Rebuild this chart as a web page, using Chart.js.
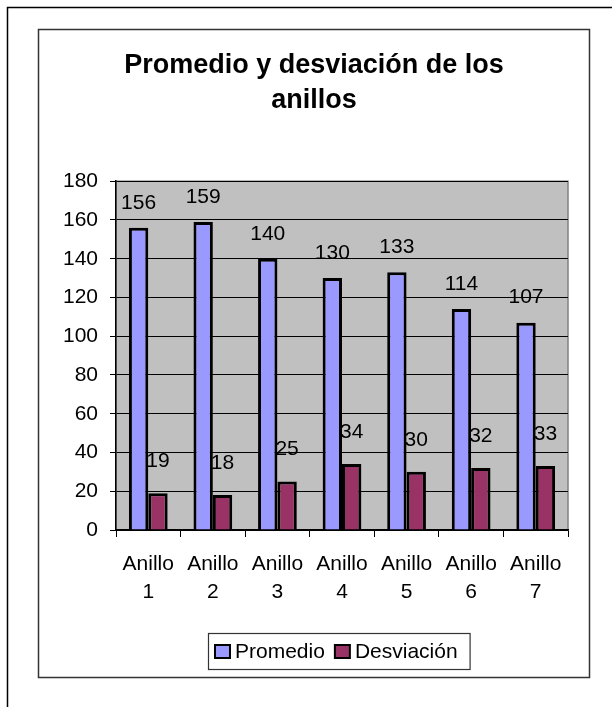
<!DOCTYPE html>
<html>
<head>
<meta charset="utf-8">
<script src="https://cdn.jsdelivr.net/npm/chart.js@4/dist/chart.umd.min.js"></script>
<style>
  html, body { margin: 0; padding: 0; background: #fff; }
  canvas { display: block; }
</style>
</head>
<body>
<canvas id="chart" width="612" height="707"></canvas>
<script>
// --- DATA ---
const categories = [['Anillo', '1'], ['Anillo', '2'], ['Anillo', '3'], ['Anillo', '4'], ['Anillo', '5'], ['Anillo', '6'], ['Anillo', '7']];
const promedio = [156, 159, 140, 130, 133, 114, 107];
const desviacion = [19, 18, 25, 34, 30, 32, 33];
const seriesNames = ['Promedio', 'Desviación'];
const titleLines = ['Promedio y desviación de los', 'anillos'];

const FONT = "'Liberation Sans', Arial, sans-serif";

// frames + grey plot background
const framePlugin = {
    id: 'frames',
    beforeDraw(chart) {
        const ctx = chart.ctx;
        const a = chart.chartArea;
        ctx.save();
        // outer frame (only top/left visible)
        ctx.strokeStyle = '#000';
        ctx.lineWidth = 1.5;
        ctx.beginPath();
        ctx.moveTo(7.5, 707);
        ctx.lineTo(7.5, 7.5);
        ctx.lineTo(612, 7.5);
        ctx.stroke();
        // inner chart box
        ctx.strokeStyle = '#333';
        ctx.strokeRect(38.5, 29.5, 551, 648);
        // plot area
        ctx.fillStyle = '#c0c0c0';
        ctx.fillRect(a.left, a.top, a.right - a.left, a.bottom - a.top);
        ctx.strokeStyle = '#808080';
        ctx.lineWidth = 1.5;
        ctx.strokeRect(a.left, a.top, a.right - a.left, a.bottom - a.top);
        ctx.restore();
    }
};

// value labels above bars
const labelOffsets = [25, 32];
const valueLabels = {
    id: 'valueLabels',
    afterDatasetsDraw(chart) {
        const ctx = chart.ctx;
        ctx.save();
        ctx.font = '21px ' + FONT;
        ctx.fillStyle = '#000';
        ctx.textAlign = 'center';
        ctx.textBaseline = 'middle';
        chart.data.datasets.forEach((ds, i) => {
            chart.getDatasetMeta(i).data.forEach((bar, j) => {
                ctx.fillText(String(ds.data[j]), bar.x, bar.y - labelOffsets[i]);
            });
        });
        ctx.restore();
    }
};

// boxed legend
const boxLegend = {
    id: 'boxLegend',
    afterDraw(chart) {
        const ctx = chart.ctx;
        ctx.save();
        ctx.font = '21px ' + FONT;
        const left = 208, top = 633, h = 36;
        const padL = 7, padR = 12, sw = 15, gap = 5, itemGap = 10;
        let x = left + padL;
        const items = chart.data.datasets.map(ds => ({ text: ds.label, color: ds.backgroundColor, w: ctx.measureText(ds.label).width }));
        let total = padL + padR;
        items.forEach((it, i) => { total += sw + gap + it.w + (i < items.length - 1 ? itemGap : 0); });
        ctx.strokeStyle = '#333';
        ctx.lineWidth = 1.2;
        ctx.strokeRect(left + 0.5, top + 0.5, total, h);
        const cy = top + h / 2;
        items.forEach(it => {
            ctx.fillStyle = it.color;
            ctx.fillRect(x, cy - 6, sw, 13);
            ctx.strokeStyle = '#000';
            ctx.lineWidth = 2;
            ctx.strokeRect(x, cy - 6, sw, 13);
            x += sw + gap;
            ctx.fillStyle = '#000';
            ctx.textBaseline = 'middle';
            ctx.fillText(it.text, x, cy + 1);
            x += it.w + itemGap;
        });
        ctx.restore();
    }
};

new Chart(document.getElementById('chart'), {
    type: 'bar',
    data: {
        labels: categories,
        datasets: [{
            label: seriesNames[0],
            data: promedio,
            backgroundColor: '#9999ff',
            borderColor: '#000',
            borderWidth: 3,
            categoryPercentage: 0.6,
            barPercentage: 1
        }, {
            label: seriesNames[1],
            data: desviacion,
            backgroundColor: '#993366',
            borderColor: '#000',
            borderWidth: 3,
            categoryPercentage: 0.6,
            barPercentage: 1
        }]
    },
    options: {
        responsive: false,
        animation: false,
        layout: { padding: { left: 60, right: 44, top: 32, bottom: 97 } },
        plugins: {
            legend: { display: false },
            tooltip: { enabled: false },
            title: {
                display: true,
                text: titleLines,
                color: '#000',
                font: { family: FONT, size: 27, weight: 'bold', lineHeight: 1.3 },
                padding: { top: 16, bottom: 63 }
            }
        },
        scales: {
            x: {
                afterFit(scale) { scale.height = 80; },
                grid: { display: true, drawOnChartArea: false, drawTicks: true, tickLength: 7, color: '#000' },
                border: { color: '#000', width: 1.5 },
                ticks: { color: '#000', padding: 14, maxRotation: 0, font: { family: FONT, size: 21, lineHeight: 1.3 } }
            },
            y: {
                min: 0,
                max: 180,
                afterFit(scale) { scale.width = 56; },
                grid: { color: '#000', lineWidth: 1, tickLength: 6 },
                border: { color: '#000', width: 1.5 },
                ticks: { stepSize: 20, color: '#000', padding: 12, font: { family: FONT, size: 21 } }
            }
        }
    },
    plugins: [framePlugin, valueLabels, boxLegend]
});
</script>
</body>
</html>
